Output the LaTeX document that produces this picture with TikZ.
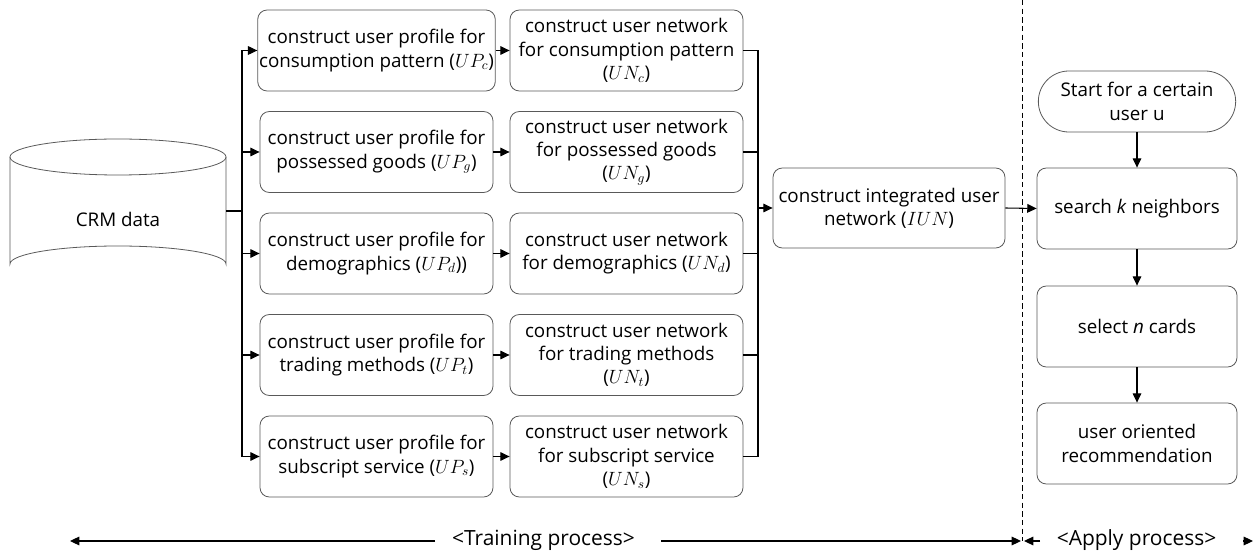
\documentclass[tikz,border=0pt]{standalone}
\usepackage{fontspec}
\setmainfont{Open Sans}
\usetikzlibrary{arrows.meta,shapes.misc}
\begin{document}
\begin{tikzpicture}[x=0.75pt,y=-0.75pt,
  every node/.style={font=\fontsize{14.1}{17.4}\selectfont},
  box/.style={draw=black!65, line width=0.6pt, rounded corners=7pt, minimum width=174.75pt, minimum height=60.75pt, align=center, inner sep=1pt},
  rbox/.style={box, minimum width=150pt},
  term/.style={draw=black!65, line width=0.6pt, rounded rectangle, minimum width=150pt, minimum height=45.75pt, align=center, inner sep=1pt},
  lbl/.style={font=\fontsize{15.7}{19}\selectfont},
  conn/.style={line width=0.8pt},
  arr/.style={conn,-{Triangle[length=7pt,width=6.5pt]}}]
\useasboundingbox (0,0) rectangle (1258,559);

% cylinder
\draw[draw=black!65, line width=0.6pt] (10,157) -- (10,264) arc[start angle=180, end angle=360, x radius=108, y radius=18] -- (226,157);
\draw[draw=black!65, line width=0.6pt] (118,157) ellipse[x radius=108, y radius=18];
\node[minimum width=162pt, minimum height=10pt, inner sep=0pt] (crm) at (118,211) {};
\node (crmtext) at (118,219) {CRM data};

% profiles
\node[box] (p1) at (376.5,50.5) {construct user profile for\\consumption pattern ($UP_c$)};
\node[box] (p2) at (376.5,152) {construct user profile for\\possessed goods ($UP_g$)};
\node[box] (p3) at (376.5,253.5) {construct user profile for\\demographics ($UP_d$))};
\node[box] (p4) at (376.5,355) {construct user profile for\\trading methods ($UP_t$)};
\node[box] (p5) at (376.5,456.5) {construct user profile for\\subscript service ($UP_s$)};

% networks
\node[box] (n1) at (626.5,50.5) {construct user network\\for consumption pattern\\($UN_c$)};
\node[box] (n2) at (626.5,152) {construct user network\\for possessed goods\\($UN_g$)};
\node[box] (n3) at (626.5,253.5) {construct user network\\for demographics ($UN_d$)};
\node[box] (n4) at (626.5,355) {construct user network\\for trading methods\\($UN_t$)};
\node[box] (n5) at (626.5,456.5) {construct user network\\for subscript service\\($UN_s$)};

% integrated
\node[box, minimum width=174pt, minimum height=60pt] (iun) at (889,208) {construct integrated user\\network ($IUN$)};

% apply column
\node[term] (start) at (1137,101.5) {Start for a certain\\user u};
\node[rbox] (search) at (1137,208.5) {search \textit{k} neighbors};
\node[rbox] (select) at (1137,326.5) {select \textit{n} cards};
\node[rbox] (rec) at (1137,443.5) {user oriented\\recommendation};

% connectors left
\coordinate (t0) at (242,211);
\draw[conn] (crm.east) -- (t0);
\foreach \i in {1,...,5} {
  \draw[arr] (t0) |- (p\i.west);
  \draw[arr] (p\i.east) -- (n\i.west);
}
\coordinate (m0) at (758,208);
\foreach \i in {1,...,5} {
  \draw[conn] (n\i.east) -| (m0);
}
\draw[arr] (m0) -- (iun.west);
\draw[arr] (iun.east) -- (search.west);
\draw[arr] (start.south) -- (search.north);
\draw[arr] (search.south) -- (select.north);
\draw[arr] (select.south) -- (rec.north);

% dashed separator
\coordinate (dtop) at (1022,0);
\coordinate (dbot) at (1022,541);
\draw[line width=0.6pt, dash pattern=on 4pt off 2.5pt] (dtop) -- (dbot);

% bottom
\node[lbl] (train) at (543.5,540) {<Training process>};
\node[lbl] (apply) at (1136.5,540) {<Apply process>};
\coordinate (tl1) at (435,541); \coordinate (tl) at (70,541);
\coordinate (tr1) at (661,541); \coordinate (tr) at (1021,541);
\coordinate (al1) at (1040,541); \coordinate (al) at (1024,541);
\coordinate (ar1) at (1243,541); \coordinate (ar) at (1253,541);
\draw[arr] (tl1) -- (tl);
\draw[arr] (tr1) -- (tr);
\draw[arr] (al1) -- (al);
\draw[arr] (ar1) -- (ar);
\end{tikzpicture}
\end{document}
